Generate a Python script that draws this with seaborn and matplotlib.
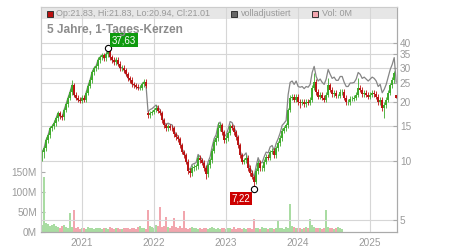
import numpy as np
import pandas as pd
import matplotlib
matplotlib.use("Agg")
import matplotlib.pyplot as plt
import matplotlib.dates as mdates
from matplotlib.patches import Rectangle
import seaborn as sns

# ---------------- data ----------------
close = [
    11.1, 11.6, 12.8, 13.5, 14.7, 15.0, 15.6, 16.5, 17.6, 16.9, 16.7, 18.2, 19.5, 21.0, 22.5, 24.4, 21.8, 21.0, 20.5, 20.3,
    21.0, 20.5, 22.3, 24.2, 25.9, 28.4, 29.8, 30.5, 32.8, 33.9, 34.6, 33.5, 35.0, 36.8, 33.9, 32.8, 32.0, 32.8, 31.3, 29.8,
    30.0, 29.1, 27.8, 26.5, 25.9, 24.7, 24.4, 23.9, 23.6, 23.6, 24.7, 25.3, 24.2, 17.1, 17.6, 17.8, 18.2, 18.6, 18.0, 17.6,
    16.1, 15.2, 14.7, 15.0, 14.8, 14.7, 13.7, 13.2, 12.9, 12.0, 11.1, 10.7, 9.9, 8.9, 8.7, 9.2, 9.3, 9.4, 10.4, 10.1,
    9.8, 9.2, 8.6, 9.5, 10.1, 11.3, 12.5, 13.1, 14.7, 15.2, 14.0, 12.8, 13.1, 13.9, 15.0, 14.8, 14.0, 13.2, 12.0, 10.7,
    9.9, 10.1, 10.4, 9.2, 8.7, 8.3, 7.8, 8.9, 9.8, 9.2, 9.2, 9.9, 10.5, 10.4, 11.1, 11.3, 10.7, 11.6, 12.3, 13.1,
    14.3, 14.7, 15.2, 18.2, 21.0, 21.3, 20.5, 21.3, 20.0, 19.8, 20.0, 19.5, 20.0, 19.8, 20.5, 23.6, 25.3, 22.5, 21.3, 21.8,
    21.0, 20.5, 21.8, 24.4, 23.1, 22.0, 22.3, 21.5, 21.5, 22.5, 22.5, 21.0, 20.0, 20.0, 20.8, 20.8, 21.0, 21.8, 23.6, 23.1,
    22.0, 22.3, 21.8, 21.3, 21.8, 22.3, 22.0, 21.3, 20.0, 20.5, 18.6, 19.3, 20.5, 22.3, 24.4, 25.9, 28.1, 21.01,
]
high = [
    11.4, 11.9, 13.2, 13.9, 15.1, 15.5, 16.1, 17.0, 18.1, 18.1, 17.4, 18.7, 20.1, 21.6, 23.2, 25.9, 25.1, 22.5, 21.6, 21.1,
    21.6, 21.6, 23.0, 24.9, 26.7, 29.3, 30.7, 31.4, 33.8, 34.9, 35.6, 35.6, 36.1, 37.63, 37.2, 34.9, 33.8, 33.8, 33.8, 32.2,
    30.9, 30.9, 30.0, 28.6, 27.3, 26.7, 25.4, 25.1, 24.6, 24.3, 25.4, 26.1, 26.1, 18.1, 18.1, 18.3, 18.7, 19.2, 19.2, 18.5,
    18.1, 16.6, 15.7, 15.5, 15.5, 15.2, 15.1, 14.1, 13.6, 13.3, 12.4, 11.4, 11.0, 10.2, 9.2, 9.5, 9.6, 9.7, 10.7, 10.7,
    10.4, 10.1, 9.5, 9.8, 10.4, 11.6, 12.9, 13.5, 15.8, 15.7, 15.7, 14.4, 13.5, 14.3, 15.5, 15.5, 15.2, 14.4, 13.6, 12.4,
    11.0, 10.4, 10.7, 10.7, 9.5, 9.0, 8.5, 9.2, 10.1, 10.1, 9.5, 10.2, 10.8, 10.8, 11.4, 11.6, 11.6, 11.9, 12.7, 13.5,
    14.7, 15.1, 15.7, 18.7, 21.6, 21.9, 21.9, 21.9, 21.9, 20.6, 20.6, 20.6, 20.6, 20.6, 21.1, 24.3, 28.1, 26.1, 23.2, 22.5,
    22.5, 21.6, 22.5, 26.5, 25.1, 23.8, 23.0, 23.0, 22.1, 23.2, 23.2, 23.2, 21.6, 20.6, 21.4, 21.4, 21.6, 22.5, 26.5, 24.3,
    23.8, 23.0, 23.0, 22.5, 22.5, 23.0, 23.0, 22.7, 21.9, 21.1, 21.1, 19.9, 21.1, 23.0, 25.1, 26.7, 28.9, 21.83,
]
low = [
    10.0, 10.4, 11.3, 12.4, 13.1, 14.3, 14.6, 15.1, 16.0, 16.4, 16.2, 16.2, 17.7, 18.9, 20.4, 21.8, 21.1, 20.4, 19.9, 19.7,
    19.7, 19.9, 19.9, 21.6, 23.5, 25.1, 27.5, 28.9, 29.6, 31.8, 32.9, 32.5, 32.5, 34.0, 32.9, 31.8, 31.0, 31.0, 30.4, 28.9,
    28.9, 28.2, 27.0, 25.7, 25.1, 24.0, 23.7, 23.2, 22.9, 22.9, 22.9, 24.0, 23.5, 16.6, 16.6, 17.1, 17.3, 17.7, 17.5, 17.1,
    15.6, 14.7, 14.3, 14.3, 14.4, 14.3, 13.3, 12.8, 12.5, 11.6, 10.8, 10.4, 9.6, 8.6, 8.3, 8.4, 8.9, 9.0, 9.1, 9.8,
    9.5, 8.9, 8.1, 8.3, 9.2, 9.8, 11.0, 12.1, 12.7, 14.3, 13.6, 12.4, 12.4, 12.7, 13.5, 14.4, 13.6, 12.8, 11.6, 10.4,
    9.6, 9.6, 9.8, 8.9, 8.4, 8.1, 7.22, 7.6, 8.6, 8.9, 8.9, 8.9, 9.6, 10.1, 10.1, 10.8, 10.4, 10.4, 11.3, 11.9,
    12.7, 13.9, 14.3, 14.7, 17.7, 20.4, 19.9, 19.9, 19.4, 18.6, 19.2, 18.9, 18.9, 19.2, 19.2, 19.9, 22.9, 21.8, 20.7, 20.7,
    20.4, 19.9, 19.9, 21.1, 22.4, 21.3, 21.3, 20.9, 20.9, 20.9, 21.8, 20.4, 19.4, 19.4, 19.4, 20.2, 20.2, 20.4, 21.1, 22.4,
    21.3, 21.3, 21.1, 20.7, 20.7, 21.1, 21.3, 20.7, 19.4, 19.4, 18.0, 16.5, 18.7, 19.9, 21.6, 23.7, 25.1, 20.94,
]
adjusted = [
    11.1, 11.6, 12.8, 13.5, 14.7, 15.0, 15.6, 16.5, 17.6, 16.9, 16.7, 18.2, 19.5, 21.0, 22.5, 24.4, 21.8, 21.0, 20.5, 20.3,
    21.0, 20.5, 22.3, 24.2, 25.9, 28.4, 29.8, 30.5, 32.8, 33.9, 34.6, 33.5, 35.0, 36.8, 33.9, 32.8, 32.0, 32.8, 31.3, 29.8,
    30.0, 29.1, 27.8, 26.5, 25.9, 24.7, 24.4, 23.9, 23.6, 23.6, 24.7, 25.3, 24.2, 17.8, 18.3, 18.5, 18.9, 19.3, 18.7, 18.3,
    16.7, 15.8, 15.3, 15.6, 15.4, 15.3, 14.2, 13.7, 13.4, 12.5, 11.5, 11.1, 10.3, 9.3, 9.0, 9.6, 9.7, 9.8, 10.8, 10.5,
    10.2, 9.6, 8.9, 9.9, 10.5, 11.8, 13.0, 13.6, 15.3, 15.8, 14.6, 13.3, 13.6, 14.5, 15.9, 15.7, 14.8, 14.0, 12.7, 11.3,
    10.5, 10.7, 11.0, 9.8, 9.2, 8.8, 8.3, 9.4, 10.4, 9.8, 9.8, 10.5, 11.1, 11.0, 11.8, 12.0, 11.3, 12.3, 13.0, 13.9,
    15.2, 15.6, 16.1, 21.8, 25.2, 25.6, 24.6, 25.6, 24.0, 23.8, 24.0, 23.4, 24.0, 23.8, 24.6, 28.3, 30.4, 27.0, 25.6, 26.2,
    25.2, 24.6, 26.2, 29.3, 27.7, 26.4, 26.8, 25.8, 25.8, 27.0, 27.0, 25.2, 24.0, 24.0, 25.0, 25.0, 25.2, 26.2, 28.3, 27.7,
    26.4, 26.8, 26.2, 25.6, 26.2, 26.8, 26.4, 25.6, 24.0, 24.6, 22.3, 23.2, 24.6, 26.8, 29.3, 31.1, 33.7, 25.2,
]
volume_m = [
    18, 137, 22, 20, 15, 18, 20, 16, 12, 10, 14, 18, 12, 10, 47, 12, 55, 10, 12, 8,
    9, 10, 8, 12, 9, 10, 8, 11, 9, 10, 8, 10, 9, 7, 12, 9, 8, 10, 9, 8,
    7, 10, 9, 11, 8, 9, 10, 8, 12, 14, 10, 9, 8, 55, 15, 12, 10, 18, 14, 62,
    12, 14, 37, 12, 10, 14, 35, 12, 10, 14, 11, 52, 9, 8, 10, 12, 9, 11, 8, 10,
    7, 9, 10, 8, 11, 12, 9, 8, 10, 7, 9, 11, 8, 10, 9, 7, 12, 8, 10, 9,
    8, 10, 7, 9, 11, 8, 32, 10, 9, 8, 12, 9, 10, 8, 9, 11, 8, 10, 27, 9,
    10, 8, 12, 9, 70, 14, 12, 10, 9, 11, 8, 10, 12, 9, 32, 18, 12, 10, 9, 11,
    8, 10, 55, 12, 10, 9, 8, 10, 12, 9, 8,
]
gap_opens = {53: 17.6}
header = {"Op": 21.83, "Hi": 21.83, "Lo": 20.94, "Cl": 21.01}
price_ticks = [5, 10, 15, 20, 25, 30, 35, 40]
volume_ticks = [0, 50, 100, 150]
year_ticks = [2021, 2022, 2023, 2024, 2025]
high_label, high_idx = 37.63, 33
low_label, low_idx = 7.22, 106

# ---------------- frame ----------------
dates = pd.date_range("2020-06-12", "2025-05-13", periods=len(close))
opens = [close[0]] + close[:-1]
for k, v in gap_opens.items():
    opens[k] = v
opens[-1] = header["Op"]
df = pd.DataFrame({"date": dates, "open": opens, "close": close, "high": high, "low": low, "adj": adjusted})
df["up"] = df["close"] >= df["open"]

sns.set_style("white")
plt.rcParams["font.family"] = ["Liberation Sans", "DejaVu Sans"]

W, H = 450, 250
L, R, T, B = 41, 397, 7, 232
fig = plt.figure(figsize=(4.5, 2.5), dpi=100)
axv = fig.add_axes([L / W, 1 - B / H, (R - L) / W, (B - T) / H])
ax = axv.twinx()

red, green = "#bb1111", "#3daa2b"
grid_c = "#d6d6d6"
lab_c = "#9a9a9a"

# volume
vd = df.iloc[:len(volume_m)]
vcols = ["#a9dca2" if u else "#f2a6ae" for u in vd["up"]]
axv.bar(vd["date"], volume_m, width=8, color=vcols, linewidth=0, zorder=2)
axv.set_ylim(0, 562)
axv.set_yticks(volume_ticks)
axv.set_yticklabels([f"{v}M" for v in volume_ticks])

# price
ax.set_yscale("log")
ax.set_ylim(4.34, 61.1)
x0 = pd.Timestamp("2020-06-07")
x1 = pd.Timestamp("2025-05-17")
ax.set_xlim(x0, x1)
axv.set_xlim(x0, x1)

ax.add_patch(Rectangle((0, (B - 19) / (B - T)), 1, 1 - (B - 19) / (B - T),
                       transform=ax.transAxes, facecolor="#e6e6e6", edgecolor="none", zorder=0.2))
for p in price_ticks:
    ax.axhline(p, color=grid_c, lw=0.8, zorder=0.5)
for y in year_ticks:
    ax.axvline(pd.Timestamp(f"{y}-01-01"), color=grid_c, lw=0.8, zorder=0.5)

sns.lineplot(data=df, x="date", y="adj", ax=ax, color="#858585", lw=0.9, zorder=2, legend=False)

lo = np.minimum(df["open"], df["close"])
hi = np.maximum(df["open"], df["close"])
ccols = [green if u else red for u in df["up"]]
ax.vlines(df["date"], df["low"], df["high"], colors=ccols, lw=0.6, zorder=3)
ax.vlines(df["date"], lo, hi, colors=ccols, lw=1.4, zorder=3.5)

# extremes
ax.plot(df["date"][high_idx], high_label, "o", mfc="white", mec="black", ms=4.5, mew=0.8, zorder=5)
ax.plot(df["date"][low_idx], low_label, "o", mfc="white", mec="black", ms=4.5, mew=0.8, zorder=5)
ax.annotate(f"{high_label:.2f}".replace(".", ","), (df["date"][high_idx], high_label),
            xytext=(16, 8), textcoords="offset pixels", ha="center", va="center",
            fontsize=7, color="white", zorder=6,
            bbox=dict(boxstyle="square,pad=0.18", fc="#0e9a0e", ec="none"))
ax.annotate(f"{low_label:.2f}".replace(".", ","), (df["date"][low_idx], low_label),
            xytext=(-13, -10), textcoords="offset pixels", ha="center", va="center",
            fontsize=7, color="white", zorder=6,
            bbox=dict(boxstyle="square,pad=0.18", fc="#cc0000", ec="none"))

# ticks
ax.set_yticks(price_ticks)
ax.set_yticklabels([str(p) for p in price_ticks])
ax.yaxis.set_minor_locator(matplotlib.ticker.NullLocator())
ax.tick_params(axis="y", which="major", direction="in", length=3, width=0.8, color="#aaaaaa",
               labelsize=7.2, labelcolor=lab_c, pad=2)
axv.tick_params(axis="y", which="major", direction="in", length=3, width=0.8, color="#aaaaaa",
                labelsize=7.2, labelcolor=lab_c, pad=3)
axv.set_xticks([pd.Timestamp(f"{y}-01-01") for y in year_ticks])
axv.xaxis.set_major_formatter(mdates.DateFormatter("%Y"))
axv.tick_params(axis="x", length=0, labelsize=7.2, labelcolor=lab_c, pad=4)
ax.tick_params(axis="x", length=0)
ax.set_xlabel(""); ax.set_ylabel(""); axv.set_xlabel(""); axv.set_ylabel("")

for a in (ax, axv):
    for s in a.spines.values():
        s.set_linewidth(0.8)
    a.spines["top"].set_color("#cccccc")
    a.spines["left"].set_color("#cccccc")
    a.spines["right"].set_color("#aaaaaa")
    a.spines["bottom"].set_color("#aaaaaa")

# header
hy = (B - 13.5) / (B - T)
def sq(xpx, fc):
    ax.add_patch(Rectangle(((xpx - L) / (R - L), (B - 17) / (B - T)), 6 / (R - L), 6 / (B - T),
                           transform=ax.transAxes, facecolor=fc, edgecolor="#333333", lw=0.7, zorder=6))
sq(47, "#bb1111")
sq(231, "#666666")
sq(312, "#f2a6ae")
ax.text((56 - L) / (R - L), hy, "Op:{Op:.2f}, Hi:{Hi:.2f}, Lo:{Lo:.2f}, Cl:{Cl:.2f}".format(**header),
        transform=ax.transAxes, fontsize=6.5, color="#999999", va="center", ha="left", zorder=6)
ax.text((241 - L) / (R - L), hy, "volladjustiert", transform=ax.transAxes, fontsize=6.5,
        color="#999999", va="center", ha="left", zorder=6)
ax.text((322 - L) / (R - L), hy, "Vol: 0M", transform=ax.transAxes, fontsize=6.5,
        color="#999999", va="center", ha="left", zorder=6)
ax.text((47 - L) / (R - L), (B - 33) / (B - T), "5 Jahre, 1-Tages-Kerzen", transform=ax.transAxes,
        fontsize=8.6, fontweight="bold", color="#8c8c8c", va="baseline", ha="left", zorder=6)

fig.savefig("out.png", dpi=100)
